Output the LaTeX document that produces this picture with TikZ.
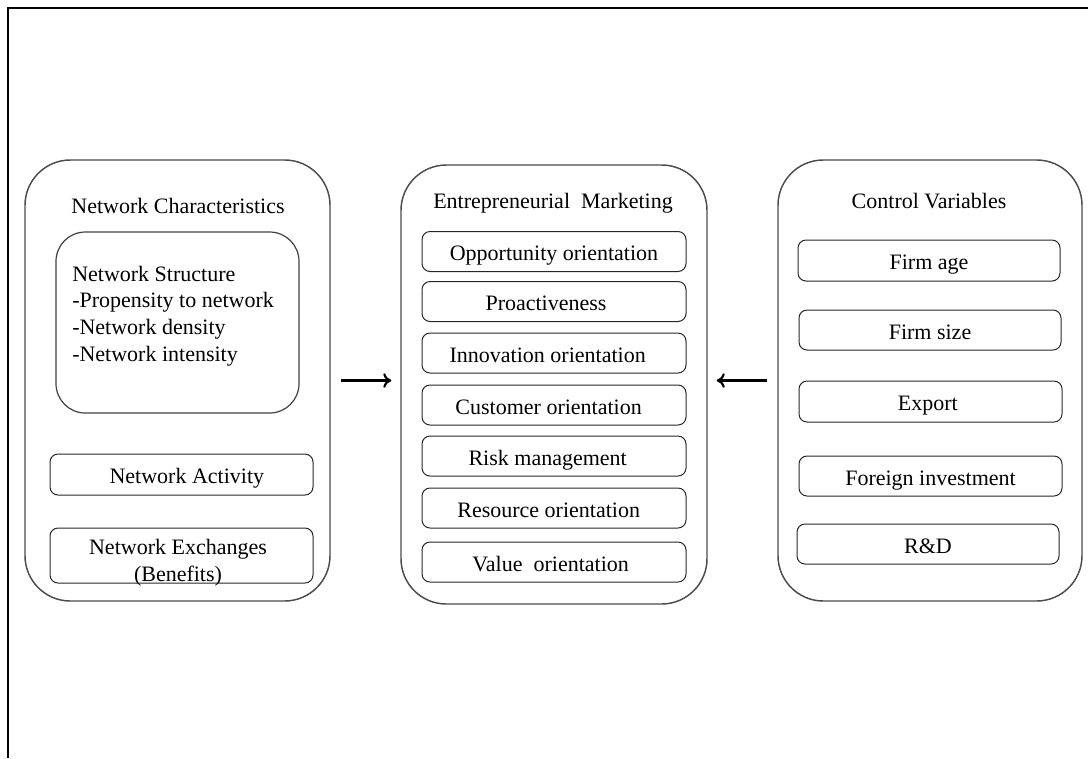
\documentclass[tikz,border=0pt]{standalone}
\usepackage{fontspec}
\setmainfont{Liberation Serif}
\usetikzlibrary{calc,arrows,arrows.meta}

\begin{document}
\begin{tikzpicture}[x=0.75pt,y=-0.75pt,
    every node/.style={font=\fontsize{16.5}{20}\selectfont},
    bigbox/.style={draw=black!70,line width=1.1pt,rounded corners=34pt,minimum width=305*0.75pt,minimum height=441*0.75pt},
    itembox/.style={draw=black!85,line width=0.75pt,rounded corners=6pt,minimum width=264*0.75pt,minimum height=40*0.75pt,inner sep=0pt,text height=14pt,text depth=0pt},
    flow/.style={-{To[length=6pt,width=11pt]},line width=1.6pt}]
              \useasboundingbox (0,0) rectangle (1088,758);
              \draw[line width=1pt] (8,758) -- (8,8) -- (1088,8);
              % network characteristics
              \node[bigbox](net)at(177.5,380.5){};
              \node(nettitle)at(178,206){Network Characteristics};
              \node[draw=black!75,line width=0.9pt,rounded corners=22pt,minimum width=243*0.75pt,minimum height=181*0.75pt](netstruct)at(177.5,322.5){};
              \node[anchor=west,align=left,inner sep=0pt](structtext)at(72,316){Network Structure\\-Propensity to network\\-Network density\\-Network intensity};
              \node[itembox,minimum width=263*0.75pt,minimum height=41*0.75pt](netact)at(181.5,474.5){\hspace{8pt}Network Activity};
              \node[itembox,minimum width=263*0.75pt,minimum height=55*0.75pt](netexch)at(181.5,555.5){};
              \node[align=center,inner sep=0pt](exchtext)at(178,563){Network Exchanges\\(Benefits)};
              % entrepreneurial marketing
              \node[bigbox,minimum width=306*0.75pt,minimum height=439*0.75pt](em)at(554,384.5){};
              \node(emtitle)at(553,203){Entrepreneurial\ \ Marketing};
              \node[itembox](opp)at(554,251.5){Opportunity orientation};
              \node[itembox](proact)at(554,301.5){\hspace{-12pt}Proactiveness};
              \node[itembox](innov)at(554,353){\hspace{-9.5pt}Innovation orientation};
              \node[itembox](cust)at(554,405){\hspace{-8pt}Customer orientation};
              \node[itembox](risk)at(554,456){\hspace{-9.5pt}Risk management};
              \node[itembox](res)at(554,508){\hspace{-8pt}Resource orientation};
              \node[itembox](val)at(554,562){\hspace{-5pt}Value\ \ orientation};
              % control variables
              \node[bigbox,minimum width=304*0.75pt](ctrl)at(930,380.5){};
              \node(ctrltitle)at(929,201){Control Variables};
              \node[itembox,minimum width=262*0.75pt,minimum height=41*0.75pt](firmage)at(929,260.5){Firm age};
              \node[itembox,minimum width=262*0.75pt](firmsize)at(930,330){Firm size};
              \node[itembox,minimum width=263*0.75pt,minimum height=41*0.75pt](export)at(930.5,401.5){\hspace{-4pt}Export};
              \node[itembox,minimum width=263*0.75pt](foreign)at(930.5,476){Foreign investment};
              \node[itembox,minimum width=262*0.75pt](rnd)at(928,544){R\&D};
              % arrows
              \draw[flow,shorten <=7.5pt,shorten >=6.75pt] (net.east) -- (net.east -| em.west);
              \draw[flow,shorten <=7.5pt,shorten >=6.75pt] (ctrl.west) -- (ctrl.west -| em.east);
            \end{tikzpicture}
\end{document}
